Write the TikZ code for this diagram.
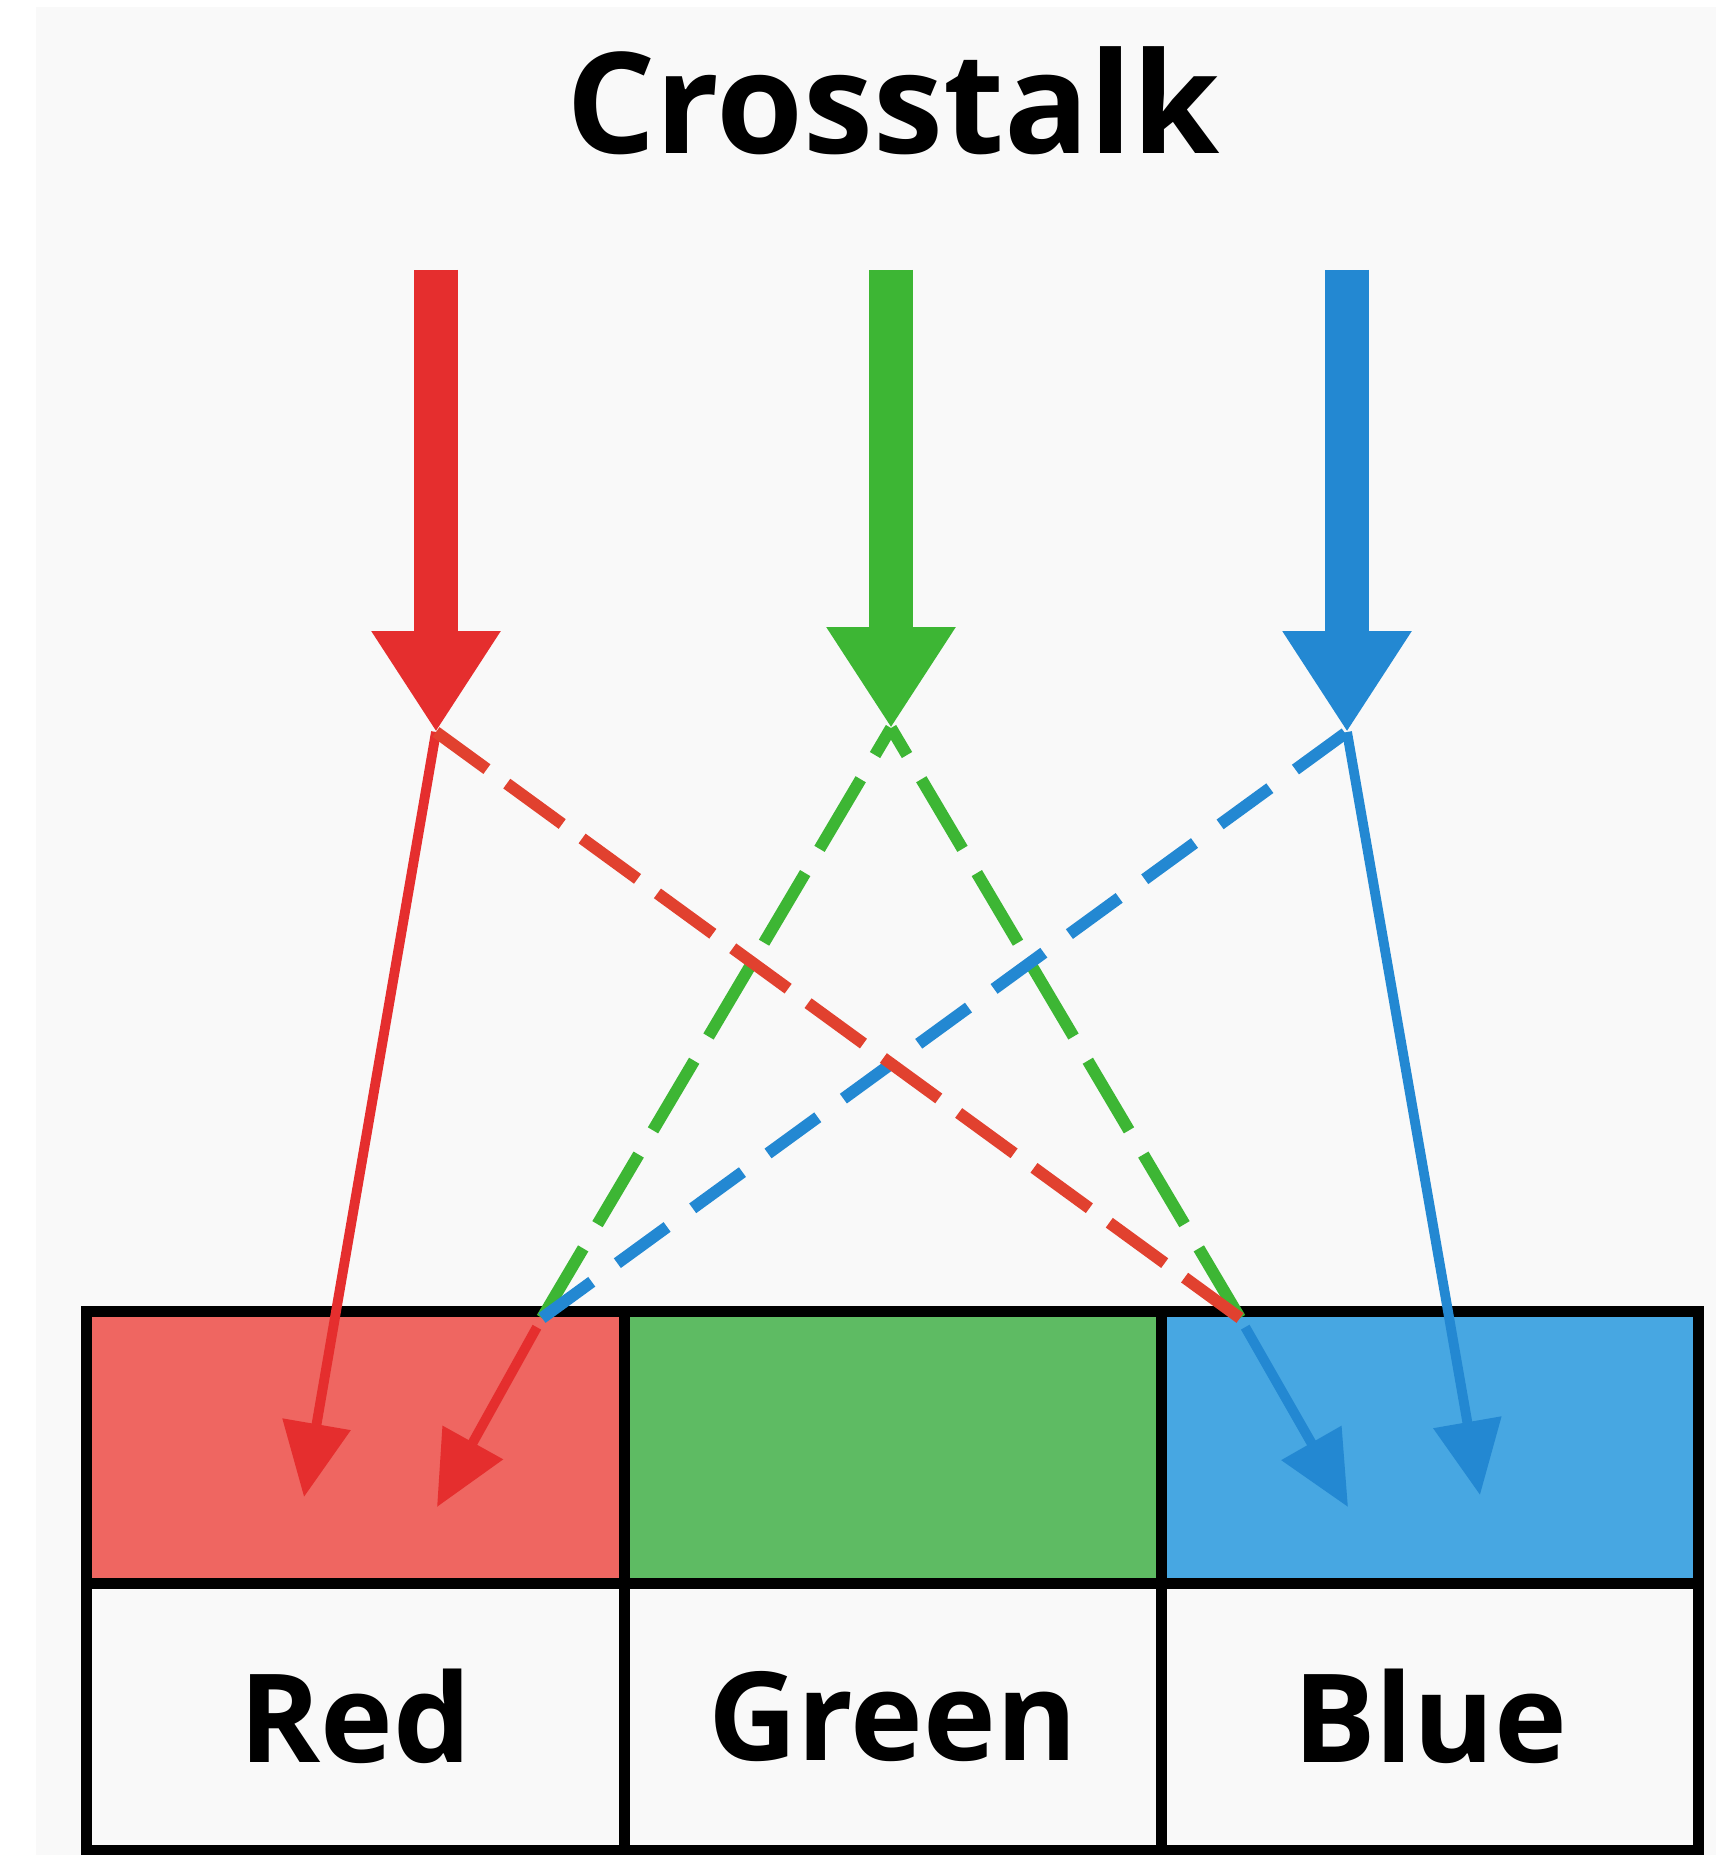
\documentclass[tikz,border=0pt]{standalone}
\usepackage{fontspec}
\setmainfont{Open Sans}
\usetikzlibrary{positioning}
\usetikzlibrary{arrows.meta}
\definecolor{panel}{HTML}{F9F9F9}
\definecolor{redbeam}{HTML}{E52E2E}
\definecolor{greenbeam}{HTML}{3DB634}
\definecolor{bluebeam}{HTML}{2388D2}
\definecolor{redleak}{HTML}{E1412F}
\definecolor{redcell}{HTML}{EF6661}
\definecolor{greencell}{HTML}{5EBB63}
\definecolor{bluecell}{HTML}{47A7E2}

\begin{document}
\begin{tikzpicture}[x=0.01cm,y=-0.01cm,>={Triangle[length=21pt,width=19pt]},
		semithick]
		\tikzstyle{cell}=[draw,line width=3.1pt,outer sep=0pt,inner sep=0pt,minimum width=5.37cm,minimum height=2.71cm]
		\tikzstyle{label}=[cell,fill=panel,minimum height=2.67cm,font=\bfseries\fontsize{35}{42}\selectfont]
		\tikzstyle{beam}=[line width=12.5pt,-{Triangle[length=28.7pt,width=34.7pt]}]
		\tikzstyle{ray}=[line width=2.8pt,->]
		\tikzstyle{leak}=[line width=3.4pt]
		
		\useasboundingbox (0,0) rectangle (1716,1855);
		\fill[white] (0,0) rectangle (1716,1855);
		\fill[panel] (36,7) rectangle (1716,1855);
		
		\node[font=\bfseries\fontsize{40}{48}\selectfont,anchor=base] (title) at (893,154) {Crosstalk};
		
		\node[cell,fill=redcell]    (rcell)  at (355.5,1447.5) {};
		\node[cell,fill=greencell]  (gcell)  [right=0pt of rcell] {};
		\node[cell,fill=bluecell]   (bcell)  [right=0pt of gcell] {};
		\node[label]                (rlabel) [below=0pt of rcell] {Red};
		\node[label]                (glabel) [below=0pt of gcell] {Green};
		\node[label]                (blabel) [below=0pt of bcell] {Blue};
		
		\coordinate (rtop) at (436,270);
		\coordinate (rtip) at (436,732);
		\coordinate (gtop) at (891,270);
		\coordinate (gtip) at (891,728);
		\coordinate (btop) at (1347,270);
		\coordinate (btip) at (1347,732);
		\coordinate (jl)   at (542,1318);
		\coordinate (jr)   at (1240,1318);
		\coordinate (rhit) at (304,1497);
		\coordinate (rx)   at (437,1507);
		\coordinate (bx)   at (1348,1507);
		\coordinate (bhit) at (1480,1495);
		
		\path (rtip) edge [ray,redbeam]                    (rhit)
		(jl)   edge [ray,redbeam,shorten <=3pt]   (rx)
		(jr)   edge [ray,bluebeam,shorten <=3pt]  (bx)
		(btip) edge [ray,bluebeam]                (bhit);
		
		\path (jl) edge [leak,greenbeam,dash pattern=on 23pt off 8pt]  (gtip)
		(jr) edge [leak,greenbeam,dash pattern=on 23pt off 8pt]  (gtip)
		(jl) edge [leak,bluebeam,dash pattern=on 17.5pt off 9pt]   (btip)
		(jr) edge [leak,redleak,dash pattern=on 19.5pt off 7pt]    (rtip);
		
		\path (rtop) edge [beam,redbeam]   (rtip)
		(gtop) edge [beam,greenbeam] (gtip)
		(btop) edge [beam,bluebeam]  (btip);
\end{tikzpicture}
\end{document}
